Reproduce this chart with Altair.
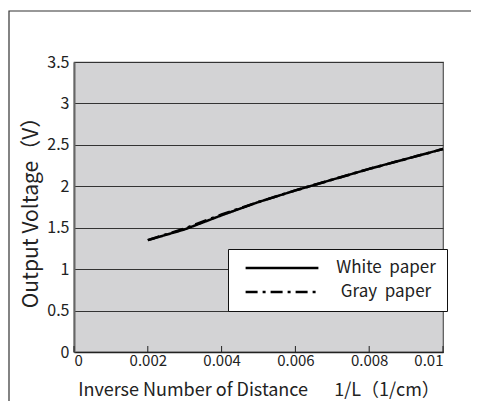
import altair as alt
import pandas as pd

# ---- data ----
x_vals = [0.002, 0.003, 0.004, 0.005, 0.006, 0.007, 0.008, 0.009, 0.010]
white_paper = [1.35, 1.48, 1.65, 1.81, 1.95, 2.08, 2.21, 2.33, 2.45]
gray_paper = [1.35, 1.49, 1.66, 1.81, 1.95, 2.08, 2.21, 2.33, 2.45]
series_names = ["White\u00a0 paper", "Gray\u00a0 paper"]
x_ticks = [0, 0.002, 0.004, 0.006, 0.008, 0.01]
y_ticks = [0, 0.5, 1, 1.5, 2, 2.5, 3, 3.5]

rows = []
for name, vals in zip(series_names, [white_paper, gray_paper]):
    for x, v in zip(x_vals, vals):
        rows.append({"x": x, "v": v, "series": name})
df = pd.DataFrame(rows)
tick_df = pd.DataFrame({"x": x_ticks})

FONT = "Noto Sans CJK JP"
W, H = 369, 290

x_scale = alt.Scale(domain=[0, 0.01], nice=False)
y_scale = alt.Scale(domain=[0, 3.5], nice=False)

frame = alt.Chart(pd.DataFrame({"a": [0]})).mark_rect(
    fillOpacity=0, stroke="#333333", strokeWidth=1.2
).encode(
    x=alt.value(-65), x2=alt.value(600), y=alt.value(-51), y2=alt.value(600)
)

lines = alt.Chart(df).mark_line(strokeWidth=2.5, color="black").encode(
    x=alt.X("x:Q", scale=x_scale,
            axis=alt.Axis(values=x_ticks, format="~g",
                          title="Inverse Number of Distance\u3000\u00a0 1/L（1/cm）",
                          grid=False, ticks=False, domainColor="#222222",
                          domainWidth=1.5, labelPadding=1, labelFontSize=15,
                          titleFontSize=18,
                          titleBaseline="alphabetic", titleY=43.8)),
    y=alt.Y("v:Q", scale=y_scale,
            axis=alt.Axis(values=y_ticks, format="~g",
                          title="Output Voltage（V）",
                          grid=True, gridColor="#333333", gridWidth=1,
                          ticks=False, domainColor="#666666", domainWidth=2,
                          titleFontSize=21, labelFontSize=16,
                          labelPadding=5, titlePadding=5)),
    strokeDash=alt.StrokeDash(
        "series:N",
        scale=alt.Scale(domain=series_names, range=[[1, 0], [12, 5, 3, 5]]),
        legend=alt.Legend(
            title=None, orient="none", legendX=154, legendY=187,
            fillColor="white", strokeColor="#111111", padding=11,
            symbolType="stroke", symbolSize=5300, symbolStrokeWidth=2.5,
            symbolStrokeColor="black", symbolOffset=5, clipHeight=16,
            labelFont=FONT, labelFontSize=17, labelColor="#222222",
            labelAlign="center", labelOffset=66, rowPadding=7,
        ),
    ),
    order=alt.Order("series:N", sort="descending"),
)

ticks = alt.Chart(tick_df).mark_rule(color="#222222", strokeWidth=1).encode(
    x=alt.X("x:Q", scale=x_scale),
    y=alt.value(H - 6), y2=alt.value(H),
)

chart = alt.layer(frame, lines, ticks).properties(
    width=W, height=H,
    autosize=alt.AutoSizeParams(type="none"),
    padding={"left": 66, "top": 54, "right": 28, "bottom": 49},
    background="white",
).configure_view(
    fill="#d3d3d5", stroke="#555555", strokeWidth=1.2
).configure_axis(
    labelFont=FONT, labelColor="#222222",
    titleFont=FONT, titleColor="#222222",
    titleFontWeight="normal",
)

chart.save("out.html", embed_options={"renderer": "svg", "actions": False})
